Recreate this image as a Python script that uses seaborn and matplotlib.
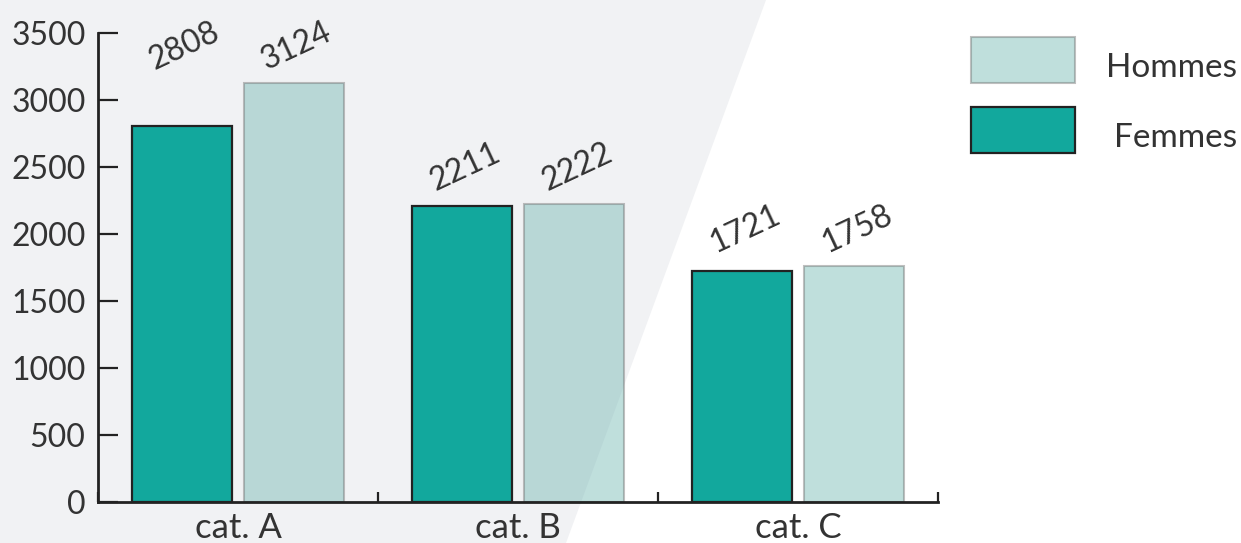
import matplotlib
matplotlib.use("Agg")
import matplotlib.pyplot as plt
from matplotlib.patches import Polygon, Rectangle
from matplotlib.ticker import FixedLocator
import numpy as np
import pandas as pd
import seaborn as sns

# Data
categories = ["cat. A", "cat. B", "cat. C"]
femmes = [2808, 2211, 1721]
hommes = [3124, 2222, 1758]
series = ["Femmes", "Hommes"]
legend_order = ["Hommes", "Femmes"]
yticks = [0, 500, 1000, 1500, 2000, 2500, 3000, 3500]

# Styles
TEAL = "#12a89d"
PALE = "#73b8b3"        # drawn with alpha -> pale teal over white
PALE_ALPHA = 0.45
PALE_EDGE = "#737373"
DARK = "#222222"
TEXT = "#333333"
BG_SHAPE = "#f1f2f4"

sns.set_theme(style="white")
plt.rcParams["font.family"] = ["Lato", "DejaVu Sans"]
plt.rcParams["font.weight"] = "normal"

df = pd.DataFrame({
    "cat": categories * 2,
    "sexe": ["Femmes"] * len(femmes) + ["Hommes"] * len(hommes),
    "val": femmes + hommes,
})

W, H = 1241, 543
fig = plt.figure(figsize=(W / 100, H / 100), dpi=100)
fig.patch.set_facecolor("white")

# Light grey slanted panel behind the chart
fig.patches.append(Polygon(
    [(0, 0), (0, 1), (766 / W, 1), (566 / W, 0)],
    closed=True, transform=fig.transFigure, facecolor=BG_SHAPE,
    edgecolor="none", zorder=-5))

ax = fig.add_axes([98 / W, 41 / H, 840 / W, 469 / H])
ax.set_facecolor("none")

sns.barplot(data=df, x="cat", y="val", hue="sexe", hue_order=series,
            palette={"Femmes": TEAL, "Hommes": PALE}, saturation=1,
            width=0.8, gap=0.1, legend=False, ax=ax)

cont_f, cont_h = ax.containers[0], ax.containers[1]
for p in cont_f:
    p.set_edgecolor(DARK)
    p.set_linewidth(1.6)
for p in cont_h:
    p.set_edgecolor(PALE_EDGE)
    p.set_linewidth(1.5)
    p.set_alpha(PALE_ALPHA)

# Value labels, placed above the taller bar of each group
for i in range(len(categories)):
    top = max(femmes[i], hommes[i])
    for cont, vals in ((cont_f, femmes), (cont_h, hommes)):
        p = cont[i]
        xc = p.get_x() + p.get_width() / 2
        ax.annotate(f"{vals[i]}", xy=(xc, top), xytext=(2, 27),
                    textcoords="offset points", rotation=25,
                    rotation_mode="anchor", ha="center", va="center",
                    fontsize=23, color=TEXT, annotation_clip=False)

ax.set_xlim(-0.5, 2.5)
ax.set_ylim(0, 3500)
ax.set_yticks(yticks)
ax.set_xticks(range(len(categories)))
ax.set_xticklabels(categories)
ax.xaxis.set_minor_locator(FixedLocator([-0.5, 0.5, 1.5, 2.5]))
ax.set_xlabel("")
ax.set_ylabel("")

ax.tick_params(axis="y", direction="in", length=14.4, width=1.6, color=DARK,
               pad=9, labelsize=23, labelcolor=TEXT, left=True)
ax.tick_params(axis="x", which="major", length=0, pad=7, labelsize=25,
               labelcolor=TEXT)
ax.tick_params(axis="x", which="minor", direction="in", length=7,
               width=1.6, color=DARK, bottom=True)

for s in ("top", "right"):
    ax.spines[s].set_visible(False)
for s in ("left", "bottom"):
    ax.spines[s].set_color(DARK)
    ax.spines[s].set_linewidth(2)

# Legend
styles = {
    "Hommes": dict(facecolor=PALE, edgecolor=PALE_EDGE, alpha=PALE_ALPHA, lw=1.5),
    "Femmes": dict(facecolor=TEAL, edgecolor=DARK, lw=1.6),
}
box_tops = [37, 107]
for name, top in zip(legend_order, box_tops):
    fig.patches.append(Rectangle((971 / W, 1 - (top + 46) / H), 104 / W, 46 / H,
                                 transform=fig.transFigure, **styles[name]))
    fig.text(1237 / W, 1 - (top + 40) / H, name, ha="right", va="baseline",
             fontsize=24, color=TEXT)

fig.savefig("out.png", dpi=100, facecolor="white")
